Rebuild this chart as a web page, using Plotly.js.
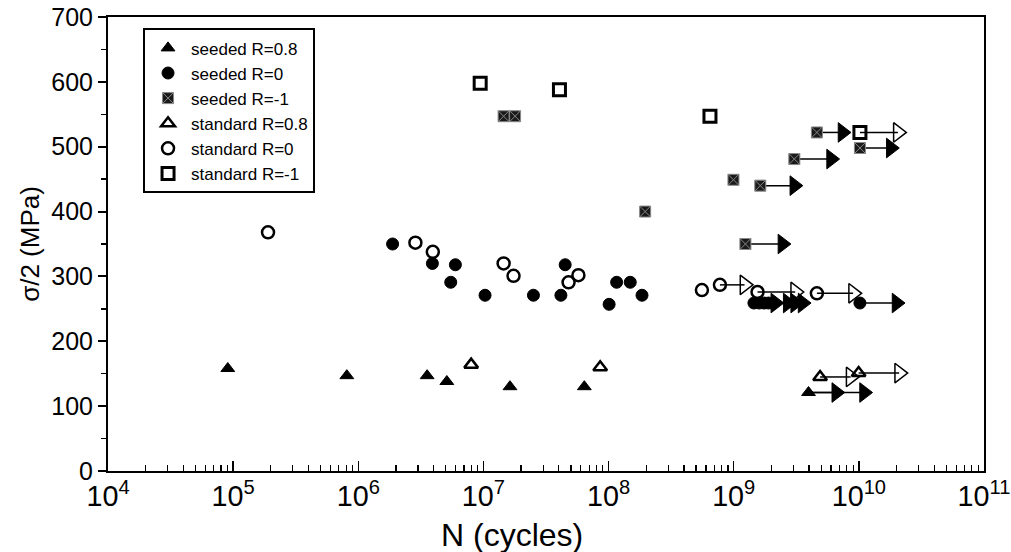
<!DOCTYPE html>
<html>
<head>
<meta charset="utf-8">
<script src="https://cdn.plot.ly/plotly-3.0.1.min.js"></script>
<style>html,body{margin:0;padding:0;background:#fff;}#chart{width:1011px;height:552px;}</style>
</head>
<body>
<div id="chart"></div>
<script>
// ---- data (N in cycles, stress amplitude in MPa) ----
const seriesNames = ["seeded R=0.8", "seeded R=0", "seeded R=-1", "standard R=0.8", "standard R=0", "standard R=-1"];
const xTitle = "N (cycles)";
const yTitle = "σ/2 (MPa)";

const seeded08N = [9.06e4, 8.1e5, 3.55e6, 5.1e6, 1.63e7, 6.4e7, 3.96e9];
const seeded08S = [158, 147, 147, 138, 130, 130, 121];

const seeded0N = [1.88e6, 3.91e6, 5.97e6, 5.48e6, 1.03e7, 2.51e7, 4.16e7, 4.5e7, 1.01e8, 1.16e8, 1.49e8, 1.85e8, 1.45e9, 1.6e9, 1.75e9, 1.9e9, 1.02e10];
const seeded0S = [350, 320, 318, 291, 271, 271, 271, 318, 257, 291, 291, 271, 259, 259, 259, 259, 259];

const seededM1N = [1.45e7, 1.79e7, 1.96e8, 9.95e8, 4.62e9, 1.02e10, 3.05e9, 1.63e9, 1.24e9];
const seededM1S = [547, 547, 400, 449, 522, 498, 481, 440, 350];

const standard08N = [7.98e6, 8.57e7, 4.9e9, 9.96e9];
const standard08S = [164, 160, 145, 151];

const standard0N = [1.9e5, 2.86e6, 3.94e6, 1.45e7, 1.74e7, 5.74e7, 4.79e7, 5.57e8, 7.76e8, 4.62e9, 1.55e9];
const standard0S = [368, 352, 338, 320, 301, 302, 291, 279, 287, 274, 276];

const standardM1N = [9.42e6, 4.05e7, 6.46e8, 1.02e10];
const standardM1S = [598, 588, 547, 522];

// run-outs (specimens that did not fail): start N, arrow-head N, stress, series index
const runoutStartN = [3.96e9, 3.96e9, 1.45e9, 1.6e9, 1.75e9, 1.9e9, 1.02e10, 4.62e9, 1.02e10, 3.05e9, 1.63e9, 1.24e9, 4.9e9, 9.96e9, 7.76e8, 4.62e9, 1.55e9, 1.02e10];
const runoutEndN   = [6.6e9, 1.1e10, 2.15e9, 2.7e9, 3.1e9, 3.55e9, 2.0e10, 7.4e9, 1.8e10, 6.0e9, 3.05e9, 2.45e9, 8.6e9, 2.1e10, 1.22e9, 9.0e9, 3.1e9, 2.05e10];
const runoutS      = [121, 121, 259, 259, 259, 259, 259, 522, 498, 481, 440, 350, 145, 151, 287, 274, 276, 522];
const runoutSeries = [0, 0, 1, 1, 1, 1, 1, 2, 2, 2, 2, 2, 3, 3, 4, 4, 4, 5];

// ---- styles ----
const styles = [
  {symbol: "triangle-up", size: 12, color: "#000", line: {color: "#000", width: 1}},
  {symbol: "circle", size: 12, color: "#000", line: {color: "#000", width: 1}},
  {symbol: "square-x", size: 11, color: "#1a1a1a", line: {color: "#888", width: 1}},
  {symbol: "triangle-up-open", size: 12, color: "#000", line: {color: "#000", width: 2.5}},
  {symbol: "circle-open", size: 12, color: "#000", line: {color: "#000", width: 2.5}},
  {symbol: "square-open", size: 12, color: "#000", line: {color: "#000", width: 3}}
];
const filledArrow = [true, true, true, false, false, false];

const xs = [seeded08N, seeded0N, seededM1N, standard08N, standard0N, standardM1N];
const ys = [seeded08S, seeded0S, seededM1S, standard08S, standard0S, standardM1S];

const traces = [];
for (let i = 0; i < runoutStartN.length; i++) {
  const filled = filledArrow[runoutSeries[i]];
  traces.push({
    x: [runoutStartN[i], runoutEndN[i]],
    y: [runoutS[i], runoutS[i]],
    mode: "lines", type: "scatter",
    showlegend: false, hoverinfo: "skip",
    line: {color: "#000", width: 1.5}
  });
  traces.push({
    x: [runoutEndN[i]], y: [runoutS[i]],
    mode: "markers", type: "scatter",
    showlegend: false, hoverinfo: "skip",
    marker: {
      symbol: filled ? "triangle-right" : "triangle-right-open",
      size: 17, opacity: 1, color: "#000",
      line: {color: "#000", width: filled ? 1 : 1.5}
    }
  });
}
for (let k = 0; k < seriesNames.length; k++) {
  traces.push({
    x: xs[k], y: ys[k], name: seriesNames[k],
    mode: "markers", type: "scatter",
    marker: styles[k]
  });
}

const font = "Arial, 'Liberation Sans', sans-serif";
const layout = {
  width: 1011, height: 552,
  margin: {l: 108, r: 27, t: 17, b: 81, pad: 0},
  paper_bgcolor: "#fff", plot_bgcolor: "#fff",
  font: {family: font, color: "#000", size: 16},
  showlegend: true,
  legend: {
    x: 0.04, y: 0.975, xanchor: "left", yanchor: "top",
    bgcolor: "#fff", bordercolor: "#000", borderwidth: 2,
    font: {size: 17, family: font, color: "#000"},
    itemwidth: 36,
    tracegroupgap: 0
  },
  xaxis: {
    type: "log", range: [4, 11], dtick: 1,
    exponentformat: "power",
    ticklabeloverflow: "allow",
    showgrid: false, zeroline: false,
    showline: true, mirror: true, linecolor: "#000", linewidth: 2,
    ticks: "inside", ticklen: 10, tickwidth: 1.5, tickcolor: "#000",
    minor: {ticks: "inside", ticklen: 6, tickwidth: 1.2, tickcolor: "#000", dtick: "D1", showgrid: false},
    tickfont: {size: 23, family: font, color: "#000"}
  },
  yaxis: {
    range: [0, 700], dtick: 100,
    showgrid: false, zeroline: false,
    showline: true, mirror: true, linecolor: "#000", linewidth: 2,
    ticks: "outside", ticklen: 8, tickwidth: 2, tickcolor: "#000",
    minor: {ticks: "outside", ticklen: 5, tickwidth: 1.5, tickcolor: "#000", dtick: 50, showgrid: false},
    tickfont: {size: 25, family: font, color: "#000"},
    title: {text: yTitle, font: {size: 26, family: font, color: "#000"}, standoff: 4}
  },
  annotations: [{
    text: xTitle, xref: "paper", yref: "paper",
    x: 0.461, y: -0.14, xanchor: "center", yanchor: "middle",
    showarrow: false, font: {size: 32, family: font, color: "#000"}
  }]
};

Plotly.newPlot("chart", traces, layout, {displayModeBar: false, staticPlot: true});
</script>
</body>
</html>
